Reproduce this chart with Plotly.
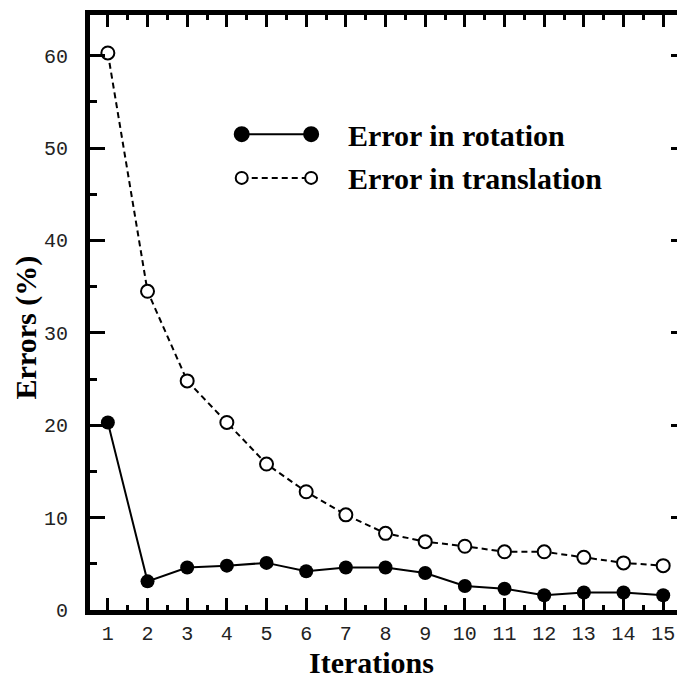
import plotly.graph_objects as go

iterations = list(range(1, 16))
rotation_err = [20.3, 3.1, 4.6, 4.8, 5.1, 4.2, 4.6, 4.6, 4.0, 2.6, 2.3, 1.6, 1.9, 1.9, 1.6]
translation_err = [60.3, 34.5, 24.8, 20.3, 15.8, 12.8, 10.3, 8.3, 7.4, 6.9, 6.3, 6.3, 5.7, 5.1, 4.8]
series_names = ["Error in rotation", "Error in translation"]
y_ticks = [0, 10, 20, 30, 40, 50, 60]
x_title = "Iterations"
y_title = "Errors (%)"

W, H = 685, 679
ML, MT, MB, MR = 82, 3, 77, 2
PW, PH = W - ML - MR, H - MT - MB
YSCALE = 9.3   # px per unit
XSCALE = 40.0  # px per iteration

fig = go.Figure()
fig.add_trace(go.Scatter(
    x=iterations, y=translation_err, mode="lines+markers", name=series_names[1],
    line=dict(color="black", width=2, dash="6px,4px"),
    marker=dict(symbol="circle", size=13, color="white", line=dict(color="black", width=2)),
    showlegend=False))
fig.add_trace(go.Scatter(
    x=iterations, y=rotation_err, mode="lines+markers", name=series_names[0],
    line=dict(color="black", width=2),
    marker=dict(symbol="circle", size=14, color="black"),
    showlegend=False))

tickfont = dict(family="Liberation Mono", size=20, color="#222")
titlefont = dict(family="Liberation Serif", size=30, color="black")
fig.update_layout(
    width=W, height=H, margin=dict(l=ML, r=MR, t=MT, b=MB),
    paper_bgcolor="white", plot_bgcolor="white",
    xaxis=dict(range=[0.55, 0.55 + PW / XSCALE], tickvals=iterations,
               showline=True, linewidth=5, linecolor="black", mirror="allticks",
               ticks="inside", ticklen=12, tickwidth=3, tickcolor="black",
               minor=dict(dtick=0.5, tick0=0.5, ticks="inside", ticklen=5, tickwidth=3, tickcolor="black"),
               showgrid=False, zeroline=False, tickfont=tickfont, ticklabelstandoff=1),
    yaxis=dict(range=[0, PH / YSCALE], tickvals=y_ticks,
               showline=True, linewidth=5, linecolor="black", mirror="allticks",
               ticks="inside", ticklen=15, tickwidth=3, tickcolor="black",
               minor=dict(dtick=5, tick0=0, ticks="inside", ticklen=7, tickwidth=3, tickcolor="black"),
               showgrid=False, zeroline=False, tickfont=tickfont, ticklabelstandoff=13),
)

def px(xp):
    return (xp - ML) / PW
def py(yp):
    return (H - MB - yp) / PH

annotations = [
    dict(xref="paper", yref="paper", x=px(366), y=py(655), xanchor="center", yanchor="middle",
         text="<b>%s</b>" % x_title, showarrow=False, font=titlefont),
    dict(xref="paper", yref="paper", x=px(17), y=py(318), xanchor="center", yanchor="middle",
         text="<b>%s</b>" % y_title, showarrow=False, font=titlefont, textangle=-90, borderpad=0),
]

# custom legend (line sample with markers at both ends)
legend_rows = [
    dict(name=series_names[0], y=123, dash="solid", fill="black", size=14),
    dict(name=series_names[1], y=167, dash="6px,4px", fill="white", size=12),
]
shapes = []
for row in legend_rows:
    shapes.append(dict(type="line", xref="paper", yref="paper", x0=px(235), x1=px(305),
                       y0=py(row["y"]), y1=py(row["y"]),
                       line=dict(color="black", width=2, dash=row["dash"])))
    for cx in (235, 305):
        s = row["size"] / 2
        shapes.append(dict(type="circle", xref="paper", yref="paper", xsizemode="pixel", ysizemode="pixel",
                           xanchor=px(cx), yanchor=py(row["y"]), x0=-s, x1=s, y0=-s, y1=s,
                           fillcolor=row["fill"], line=dict(color="black", width=2)))
    annotations.append(dict(xref="paper", yref="paper", x=px(340), y=py(row["y"] + 1), xanchor="left", yanchor="middle",
                            text="<b>%s</b>" % row["name"], showarrow=False,
                            font=dict(family="Liberation Serif", size=30, color="black")))
fig.update_layout(shapes=shapes, annotations=annotations)

fig.write_html("out.html")
